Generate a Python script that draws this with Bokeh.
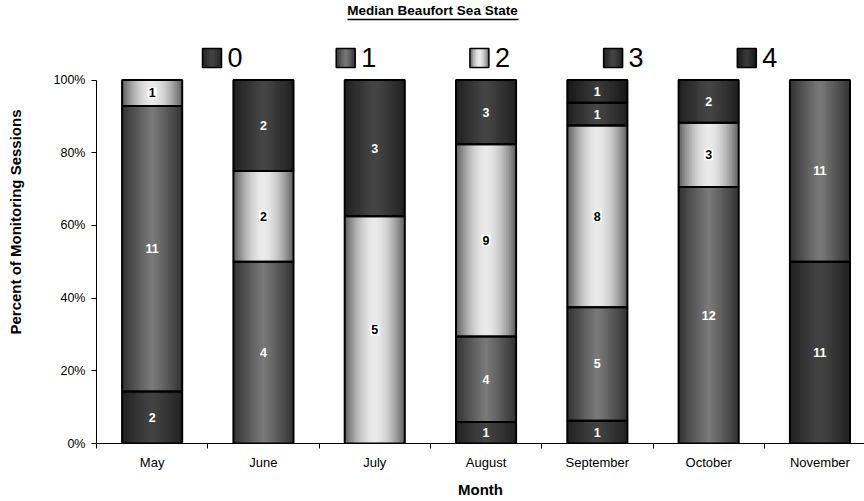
import numpy as np
from bokeh.plotting import figure
from bokeh.models import ColumnDataSource, FixedTicker, NumeralTickFormatter, Label
from bokeh.embed import file_html
from bokeh.resources import INLINE
from bokeh.core.properties import value

# ---- data: number of monitoring sessions per median Beaufort sea state ----
months = ["May", "June", "July", "August", "September", "October", "November"]
states = ["0", "1", "2", "3", "4"]
state0 = [2, 0, 0, 1, 1, 0, 11]
state1 = [11, 4, 0, 4, 5, 12, 11]
state2 = [1, 2, 5, 9, 8, 3, 0]
state3 = [0, 2, 3, 3, 1, 2, 0]
state4 = [0, 0, 0, 0, 1, 0, 0]
y_ticks = [0, 0.2, 0.4, 0.6, 0.8, 1.0]

counts = [state0, state1, state2, state3, state4]
totals = [sum(c[m] for c in counts) for m in range(len(months))]

# ---- styling: grey gradient (edge level, centre level, curve) per state ----
edge_grey = [0x22, 0x32, 0x5c, 0x20, 0x17]
centre_grey = [0x44, 0x7a, 0xea, 0x46, 0x3a]
curve = [1.1, 1.1, 1.8, 1.1, 1.1]
label_dark = [False, False, True, False, False]

FONT = "Liberation Sans"
W, H = 864, 501
FRAME_LEFT, FRAME_BOTTOM = 96, 443          # canvas pixels of the plot frame
CAT_PX = 111.3                               # pixels per month slot
UNIT_PX = 363.5                              # pixels from 0% to 100%
x_start = -0.5
x_end = x_start + (W - FRAME_LEFT) / CAT_PX
y_end = FRAME_BOTTOM / UNIT_PX


def px_x(px):
    return x_start + (px - FRAME_LEFT) / CAT_PX


def px_y(py):
    return (FRAME_BOTTOM - py) / UNIT_PX


def grey(level):
    v = int(round(max(0, min(255, level))))
    return "#%02x%02x%02x" % (v, v, v)


def gradient(s, n):
    cols = []
    for j in range(n):
        u = (j + 0.5) / n
        d = abs(2 * u - 1)
        cols.append(grey(centre_grey[s] + (edge_grey[s] - centre_grey[s]) * d ** curve[s]))
    return cols


def add_strips(store, left, right, bottom, top, s, n):
    w = (right - left) / n
    cols = gradient(s, n)
    for j in range(n):
        r = left + (j + 1) * w
        if j < n - 1:
            r += 0.6 * w   # slight overlap hides seams between strips
        store["left"].append(left + j * w)
        store["right"].append(r)
        store["bottom"].append(bottom)
        store["top"].append(top)
        store["color"].append(cols[j])


p = figure(width=W, height=H, output_backend="svg", toolbar_location=None,
           x_range=(x_start, x_end), y_range=(0, y_end),
           min_border_left=FRAME_LEFT, min_border_right=0,
           min_border_top=0, min_border_bottom=H - FRAME_BOTTOM)
p.outline_line_color = None
p.grid.grid_line_color = None
p.background_fill_color = "white"
p.border_fill_color = "white"

# ---- stacked 100% bars ----
bar_width = 0.54
strips = dict(left=[], right=[], bottom=[], top=[], color=[])
outline = dict(left=[], right=[], bottom=[], top=[])
lab_light = dict(x=[], y=[], text=[])
lab_dark = dict(x=[], y=[], text=[])
for m in range(len(months)):
    base = 0
    for s in range(len(states)):
        c = counts[s][m]
        if c == 0:
            continue
        b = base / totals[m]
        t = (base + c) / totals[m]
        l, r = m - bar_width / 2, m + bar_width / 2
        add_strips(strips, l, r, b, t, s, 36)
        outline["left"].append(l)
        outline["right"].append(r)
        outline["bottom"].append(b)
        outline["top"].append(t)
        target = lab_dark if label_dark[s] else lab_light
        target["x"].append(m)
        target["y"].append((b + t) / 2)
        target["text"].append(str(c))
        base += c

p.quad(left="left", right="right", bottom="bottom", top="top", fill_color="color",
       line_color=None, source=ColumnDataSource(strips))
p.quad(left="left", right="right", bottom="bottom", top="top", fill_color=None,
       line_color="black", line_width=2, source=ColumnDataSource(outline))

p.text(x="x", y="y", text="text", source=ColumnDataSource(lab_light),
       text_color="white", text_font=value(FONT), text_font_style="bold",
       text_font_size="12.5px", text_align="center", text_baseline="middle")
p.text(x="x", y="y", text="text", source=ColumnDataSource(lab_dark),
       text_color="black", text_font=value(FONT), text_font_style="bold",
       text_font_size="12.5px", text_align="center", text_baseline="middle",
       background_fill_color="white", padding=1)

# ---- legend row with gradient swatches ----
leg = dict(left=[], right=[], bottom=[], top=[], color=[])
leg_box = dict(left=[], right=[], bottom=[], top=[])
leg_txt = dict(x=[], y=[], text=[])
for s, name in enumerate(states):
    sx = 202 + 133.7 * s
    l, r = px_x(sx), px_x(sx + 19)
    b, t = px_y(67), px_y(48)
    add_strips(leg, l, r, b, t, s, 12)
    leg_box["left"].append(l)
    leg_box["right"].append(r)
    leg_box["bottom"].append(b)
    leg_box["top"].append(t)
    leg_txt["x"].append(px_x(sx + 25))
    leg_txt["y"].append(px_y(57))
    leg_txt["text"].append(name)
p.quad(left="left", right="right", bottom="bottom", top="top", fill_color="color",
       line_color=None, source=ColumnDataSource(leg))
p.quad(left="left", right="right", bottom="bottom", top="top", fill_color=None,
       line_color="black", line_width=1.5, source=ColumnDataSource(leg_box))
p.text(x="x", y="y", text="text", source=ColumnDataSource(leg_txt),
       text_color="black", text_font=value(FONT), text_font_size="27px",
       text_align="left", text_baseline="middle")

# ---- title with underline ----
p.add_layout(Label(x=px_x(W / 2), y=px_y(10), text="Median Beaufort Sea State",
                   text_font=FONT, text_font_style="bold", text_font_size="13.5px",
                   text_color="black", text_align="center", text_baseline="middle"))
p.segment(x0=[px_x(347)], x1=[px_x(518)], y0=[px_y(19)], y1=[px_y(19)],
          line_color="black", line_width=1.5)

# ---- axes ----
xa = p.xaxis[0]
xa.ticker = FixedTicker(ticks=list(range(len(months))),
                        minor_ticks=[i - 0.5 for i in range(len(months) + 1)])
xa.major_label_overrides = {i: mth for i, mth in enumerate(months)}
xa.major_tick_out = 0
xa.major_tick_in = 0
xa.minor_tick_out = 5
xa.minor_tick_in = 0
xa.axis_line_color = "black"
xa.minor_tick_line_color = "black"
xa.major_label_standoff = 6
xa.major_label_text_font = FONT
xa.major_label_text_font_size = "13px"
xa.major_label_text_color = "black"
xa.axis_label = "Month"
xa.axis_label_text_font = FONT
xa.axis_label_text_font_style = "bold"
xa.axis_label_text_font_size = "15px"
xa.axis_label_text_color = "black"
xa.axis_label_standoff = 8

ya = p.yaxis[0]
ya.bounds = (0, 1)
ya.ticker = FixedTicker(ticks=y_ticks, minor_ticks=[])
ya.formatter = NumeralTickFormatter(format="0%")
ya.major_tick_out = 5
ya.major_tick_in = 0
ya.minor_tick_line_color = None
ya.axis_line_color = "black"
ya.major_tick_line_color = "black"
ya.major_label_standoff = 6
ya.major_label_text_font = FONT
ya.major_label_text_font_size = "12.5px"
ya.major_label_text_color = "black"
ya.axis_label = "Percent of Monitoring Sessions"
ya.axis_label_text_font = FONT
ya.axis_label_text_font_style = "bold"
ya.axis_label_text_font_size = "15px"
ya.axis_label_text_color = "black"
ya.axis_label_standoff = 27

open("out.html", "w").write(file_html(p, INLINE))
